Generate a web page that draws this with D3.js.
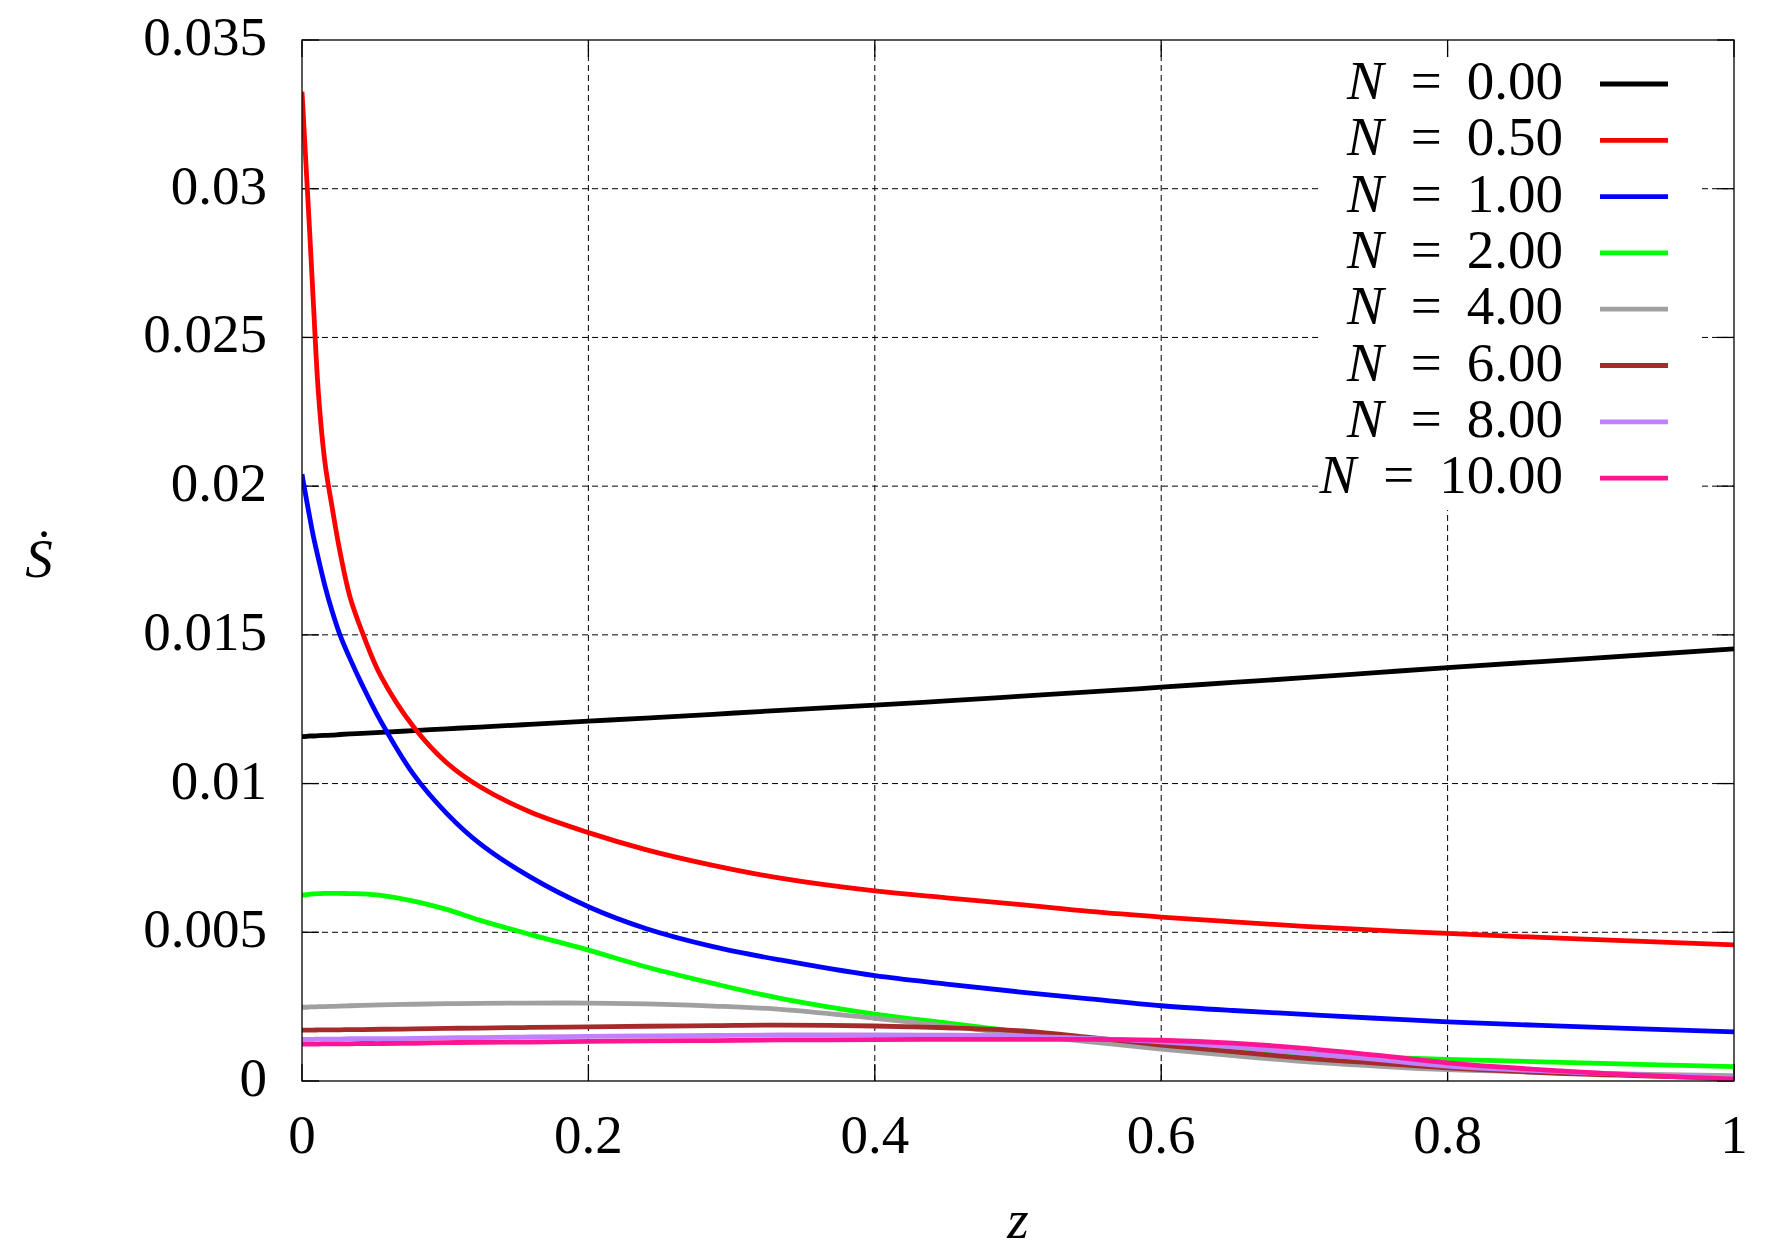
<!DOCTYPE html>
<html>
<head>
<meta charset="utf-8">
<script src="https://cdn.jsdelivr.net/npm/d3@7"></script>
<style>
  html, body { margin: 0; padding: 0; background: #fff; }
  svg { display: block; }
  text { font-family: "Liberation Serif", "DejaVu Serif", serif; fill: #000; }
</style>
</head>
<body>
<svg id="chart" width="1766" height="1253"></svg>
<script>
// ---- data ----
const zGrid = [0, 0.0033, 0.0056, 0.008, 0.0115, 0.016, 0.021, 0.0265, 0.0335, 0.042, 0.055, 0.078, 0.101, 0.124, 0.159, 0.2, 0.24, 0.287, 0.334, 0.4, 0.45, 0.5, 0.55, 0.6, 0.65, 0.7, 0.75, 0.8, 0.9, 1.0];

const seriesNames = ["0.00", "0.50", "1.00", "2.00", "4.00", "6.00", "8.00", "10.00"];
const seriesColors = ["#000000", "#ff0000", "#0000ff", "#00ff00", "#a0a0a0", "#a52a2a", "#c080ff", "#ff1493"];

const sN0 = [0.01158, 0.01159, 0.0116, 0.0116, 0.01161, 0.01162, 0.01163, 0.01165, 0.01167, 0.01169, 0.01172, 0.01178, 0.01184, 0.0119, 0.01199, 0.0121, 0.0122, 0.01233, 0.01246, 0.01264, 0.01278, 0.01293, 0.01308, 0.01324, 0.0134, 0.01356, 0.01373, 0.0139, 0.01421, 0.01453];
const sN05 = [0.03326, 0.03036, 0.02832, 0.0261, 0.0231, 0.0208, 0.0193, 0.0178, 0.01628, 0.0151, 0.01362, 0.0119, 0.0107, 0.0099, 0.00905, 0.00835, 0.00778, 0.00725, 0.00682, 0.00639, 0.00616, 0.00594, 0.0057, 0.00551, 0.00535, 0.0052, 0.00507, 0.00496, 0.00476, 0.00458];
const sN1 = [0.0204, 0.0195, 0.0189, 0.0183, 0.01755, 0.01665, 0.0158, 0.0150, 0.0142, 0.01332, 0.0121, 0.0103, 0.0090, 0.00799, 0.00687, 0.00586, 0.00513, 0.00452, 0.00407, 0.00354, 0.00326, 0.0030, 0.00276, 0.00253, 0.00237, 0.00224, 0.00211, 0.00199, 0.00181, 0.00165];
const sN2 = [0.00625, 0.00627, 0.00628, 0.00629, 0.0063, 0.00631, 0.00631, 0.00631, 0.0063, 0.00629, 0.00624, 0.00605, 0.00577, 0.00541, 0.00493, 0.0044, 0.00384, 0.00328, 0.00278, 0.00225, 0.00195, 0.00166, 0.00142, 0.00121, 0.00103, 0.0009, 0.0008, 0.00073, 0.0006, 0.00048];
const sN4 = [0.00248, 0.00248, 0.00249, 0.00249, 0.0025, 0.0025, 0.00251, 0.00252, 0.00253, 0.00254, 0.00256, 0.00258, 0.0026, 0.00261, 0.00262, 0.00262, 0.00259, 0.00252, 0.00241, 0.00211, 0.00185, 0.00158, 0.00132, 0.00107, 0.00085, 0.00065, 0.0005, 0.00038, 0.00026, 0.00018];
const sN6 = [0.00171, 0.00171, 0.00171, 0.00171, 0.00172, 0.00172, 0.00172, 0.00172, 0.00173, 0.00173, 0.00174, 0.00175, 0.00177, 0.00178, 0.0018, 0.00182, 0.00184, 0.00186, 0.00188, 0.00185, 0.00179, 0.00169, 0.00147, 0.00121, 0.00099, 0.00077, 0.0006, 0.00044, 0.00022, 0.0001];
const sN8 = [0.0014, 0.0014, 0.0014, 0.0014, 0.00141, 0.00141, 0.00141, 0.00141, 0.00142, 0.00142, 0.00142, 0.00143, 0.00145, 0.00146, 0.00148, 0.0015, 0.00152, 0.00153, 0.00155, 0.00155, 0.00154, 0.00151, 0.00143, 0.00132, 0.00115, 0.00094, 0.00073, 0.0005, 0.00027, 0.00011];
const sN10 = [0.00124, 0.00124, 0.00124, 0.00124, 0.00124, 0.00125, 0.00125, 0.00125, 0.00125, 0.00126, 0.00126, 0.00127, 0.00129, 0.0013, 0.00131, 0.00133, 0.00135, 0.00136, 0.00138, 0.00139, 0.0014, 0.0014, 0.0014, 0.00137, 0.00127, 0.0011, 0.00087, 0.00061, 0.00028, 0.00006];

const xTicks = [0, 0.2, 0.4, 0.6, 0.8, 1];
const xTickLabels = ["0", "0.2", "0.4", "0.6", "0.8", "1"];
const yTicks = [0, 0.005, 0.01, 0.015, 0.02, 0.025, 0.03, 0.035];
const yTickLabels = ["0", "0.005", "0.01", "0.015", "0.02", "0.025", "0.03", "0.035"];

const allSeries = [sN0, sN05, sN1, sN2, sN4, sN6, sN8, sN10];

// ---- layout ----
const L = 302, R = 1734, T = 40, B = 1081;
const FS = 55;
const LW = 4.8;

const svg = d3.select("#chart");
svg.append("rect").attr("width", 1766).attr("height", 1253).attr("fill", "#fff");

const x = d3.scaleLinear().domain([0, 1]).range([L, R]);
const y = d3.scaleLinear().domain([0, 0.035]).range([B, T]);

// grid
const grid = svg.append("g").attr("stroke", "#000").attr("stroke-width", 1).attr("stroke-dasharray", "6,4").attr("fill", "none");
xTicks.filter(t => t > 0 && t < 1).forEach(t => {
  grid.append("line").attr("x1", x(t)).attr("x2", x(t)).attr("y1", B).attr("y2", T);
});
yTicks.filter(t => t > 0 && t < 0.035).forEach(t => {
  grid.append("line").attr("x1", L).attr("x2", R).attr("y1", y(t)).attr("y2", y(t));
});

// ticks (inward, all sides)
const TL = 17;
const ticks = svg.append("g").attr("stroke", "#000").attr("stroke-width", 1.3);
xTicks.forEach(t => {
  ticks.append("line").attr("x1", x(t)).attr("x2", x(t)).attr("y1", B).attr("y2", B - TL);
  ticks.append("line").attr("x1", x(t)).attr("x2", x(t)).attr("y1", T).attr("y2", T + TL);
});
yTicks.forEach(t => {
  ticks.append("line").attr("x1", L).attr("x2", L + TL).attr("y1", y(t)).attr("y2", y(t));
  ticks.append("line").attr("x1", R).attr("x2", R - TL).attr("y1", y(t)).attr("y2", y(t));
});

// tick labels
xTicks.forEach((t, i) => {
  svg.append("text").attr("x", x(t)).attr("y", 1153).attr("text-anchor", "middle")
    .attr("font-size", FS).text(xTickLabels[i]);
});
yTicks.forEach((t, i) => {
  svg.append("text").attr("x", 267).attr("y", y(t) + 15).attr("text-anchor", "end")
    .attr("font-size", FS).text(yTickLabels[i]);
});

// axis titles
svg.append("text").attr("x", 1018).attr("y", 1238).attr("text-anchor", "middle")
  .attr("font-size", FS).attr("font-style", "italic").text("z");
svg.append("text").attr("x", 39).attr("y", 577).attr("text-anchor", "middle")
  .attr("font-size", FS).attr("font-style", "italic").text("\u1E60");

// clip
svg.append("clipPath").attr("id", "plotclip").append("rect")
  .attr("x", L).attr("y", T).attr("width", R - L).attr("height", B - T);

const line = d3.line().x(d => x(d[0])).y(d => y(d[1])).curve(d3.curveCatmullRom.alpha(0.5));
const curves = svg.append("g").attr("clip-path", "url(#plotclip)");
allSeries.forEach((vals, i) => {
  const pts = zGrid.map((z, j) => [z, vals[j]]);
  curves.append("path").attr("d", line(pts)).attr("fill", "none")
    .attr("stroke", seriesColors[i]).attr("stroke-width", LW).attr("stroke-linejoin", "round");
});

// legend (opaque)
svg.append("rect").attr("x", 1322).attr("y", T + TL).attr("width", 378).attr("height", 453).attr("fill", "#fff");
const rowY0 = 84, rowDY = 56.3;
seriesNames.forEach((name, i) => {
  const ry = rowY0 + i * rowDY;
  const t = svg.append("text").attr("x", 1563).attr("y", ry + 15).attr("text-anchor", "end").attr("font-size", FS);
  t.append("tspan").attr("font-style", "italic").text("N");
  t.append("tspan").attr("dx", 27).text("=");
  t.append("tspan").attr("dx", 25).text(name);
  svg.append("line").attr("x1", 1600).attr("x2", 1668).attr("y1", ry).attr("y2", ry)
    .attr("stroke", seriesColors[i]).attr("stroke-width", LW);
});

// border
svg.append("rect").attr("x", L).attr("y", T).attr("width", R - L).attr("height", B - T)
  .attr("fill", "none").attr("stroke", "#000").attr("stroke-width", 1.3);
</script>
</body>
</html>
